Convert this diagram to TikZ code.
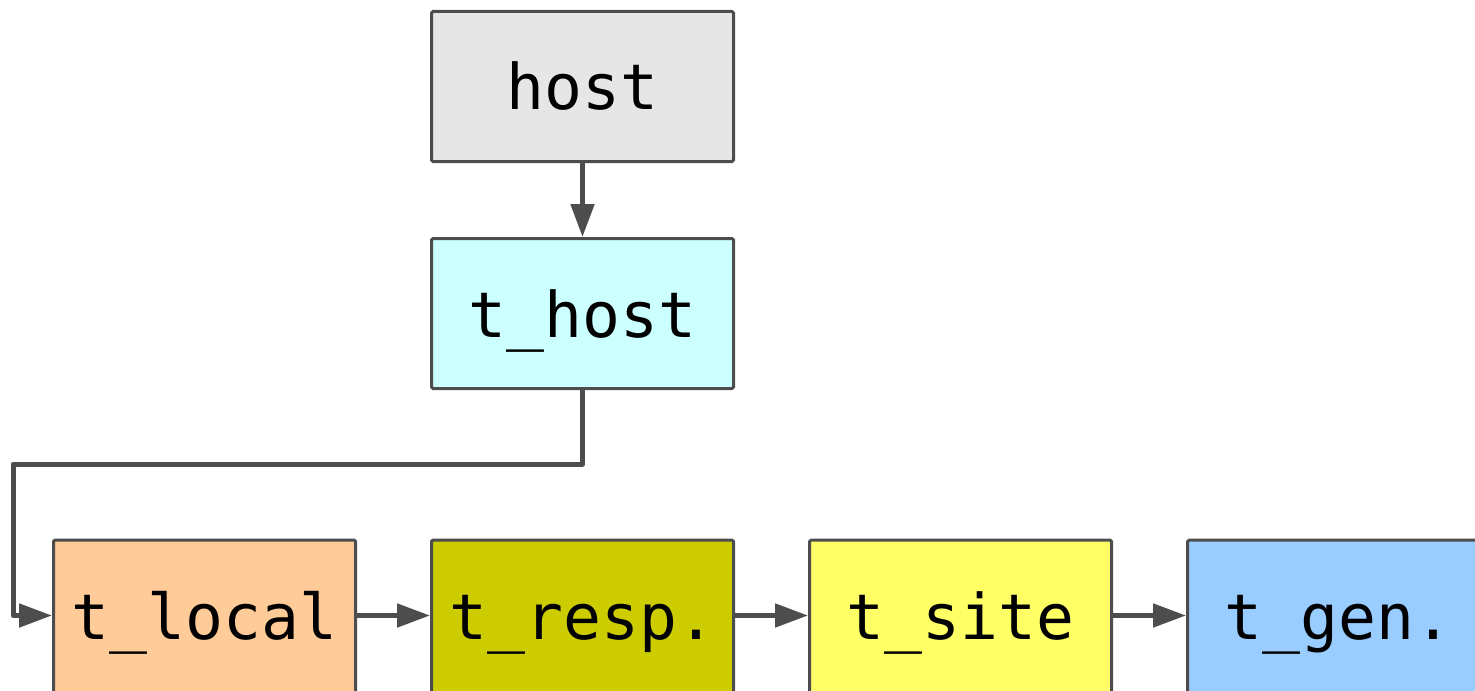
\documentclass[tikz,border=0pt]{standalone}
\usepackage{fontspec}
\setmonofont{DejaVu Sans Mono}
\usetikzlibrary{arrows.meta}
\definecolor{edge}{HTML}{4D4D4D}
\definecolor{cHost}{HTML}{E6E6E6}
\definecolor{cTHost}{HTML}{CCFFFF}
\definecolor{cLocal}{HTML}{FFCC99}
\definecolor{cResp}{HTML}{CCCC00}
\definecolor{cSite}{HTML}{FFFF66}
\definecolor{cGen}{HTML}{99CCFF}
\tikzset{
  box/.style={draw=edge, line width=1.5pt, minimum width=151pt, minimum height=75pt,
    inner sep=0pt, text height=23.5pt, text depth=0pt,
    font=\ttfamily\fontsize{31.5}{36}\selectfont, rounded corners=0.8pt},
  lowbox/.style={box, minimum height=78pt, text height=21pt},
  conn/.style={draw=edge, line width=2.5pt,
    -{Triangle[length=16.5pt,width=11.5pt]}},
}
\begin{document}
\begin{tikzpicture}[x=0.5pt,y=-0.5pt]
\useasboundingbox (0,0) rectangle (1475,690);
\node[box, fill=cHost]  (host)   at (582.5,86.5)  {host};
\node[box, fill=cTHost] (thost)  at (582.5,313.5) {t\_host};
\node[lowbox, fill=cLocal] (tlocal) at (204.5,618)   {t\_local};
\node[lowbox, fill=cResp]  (tresp)  at (582.5,618)   {t\_resp.};
\node[lowbox, fill=cSite]  (tsite)  at (960.5,618)   {t\_site};
\node[lowbox, fill=cGen]   (tgen)   at (1338.5,618)  {t\_gen.};
\coordinate (c1) at (582.5,464);
\coordinate (c2) at (13,464);
\coordinate (c3) at (13,615.5);
\coordinate (c4) at (tlocal.west |- c3);
\draw[conn] (host) -- (thost);
\draw[conn, line join=round] (thost.south) -- (c1) -- (c2) -- (c3) -- (c4);
\draw[conn] (tlocal.east |- c3) -- (tresp.west |- c3);
\draw[conn] (tresp.east |- c3) -- (tsite.west |- c3);
\draw[conn] (tsite.east |- c3) -- (tgen.west |- c3);
\end{tikzpicture}
\end{document}
